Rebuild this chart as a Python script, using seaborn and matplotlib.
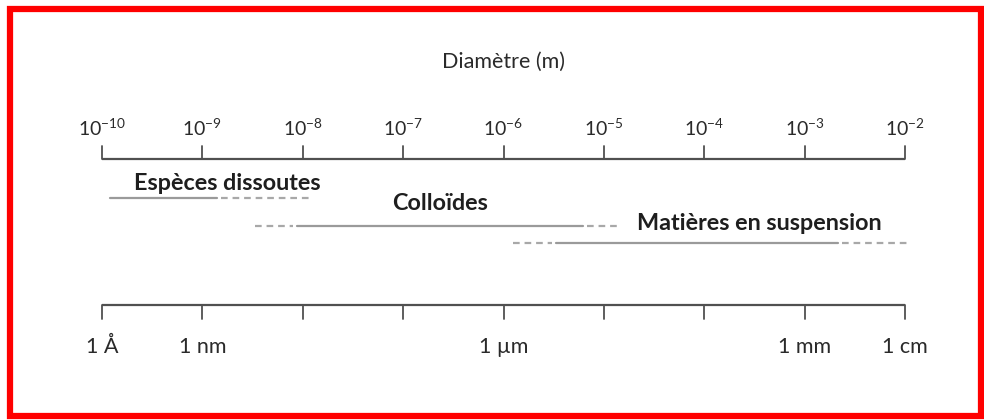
import numpy as np
import pandas as pd
import matplotlib
matplotlib.use("Agg")
import matplotlib.pyplot as plt
from matplotlib.patches import Rectangle
import seaborn as sns

sns.set_theme(style="white")
plt.rcParams["font.family"] = ["Lato", "DejaVu Sans"]
plt.rcParams["mathtext.default"] = "regular"

# Decade ticks of the diameter scale (log10 of metres)
decades = [-10, -9, -8, -7, -6, -5, -4, -3, -2]
# Named sizes on the lower scale
unit_exps = [-10, -9, -6, -3, -2]
unit_labels = ["1 Å", "1 nm", "1 µm", "1 mm", "1 cm"]

# Size classes: (log10 start dashed, solid start, solid end, dashed end)
classes = ["Espèces dissoutes", "Colloïdes", "Matières en suspension"]
dash_lo = [None, -8.48, -5.91]
solid_lo = [-9.92, -8.06, -5.48]
solid_hi = [-8.85, -5.21, -2.67]
dash_hi = [-7.90, -4.86, -1.98]
label_at = [-8.75, -6.63, -3.45]

W, H = 984, 420
fig = plt.figure(figsize=(W / 100, H / 100), dpi=100)
fig.patch.set_facecolor("white")
ax = fig.add_axes([0, 0, 1, 1])
ax.set_xscale("log")
px_per_dec = (905 - 102) / 8.0
ax.set_xlim(10 ** (-10 - 102 / px_per_dec), 10 ** (-2 + (W - 905) / px_per_dec))
ax.set_ylim(H, 0)
ax.axis("off")

axis_col = "#505050"
text_col = "#2a2a2a"
range_col = "#9a9a9a"

x_lo, x_hi = 10.0 ** decades[0], 10.0 ** decades[-1]

# Upper scale: exponent labels above, ticks pointing up
y_top = 159
ax.plot([x_lo, x_hi], [y_top, y_top], color=axis_col, lw=1.6, solid_capstyle="butt")
for e in decades:
    ax.plot([10.0 ** e] * 2, [y_top, y_top - 13], color=axis_col, lw=1.3)
    ax.text(10.0 ** e, 128, r"$\mathregular{10^{%d}}$" % e, ha="center", va="center",
            fontsize=14, color=text_col)
ax.text(10.0 ** -6, 62, "Diamètre (m)", ha="center", va="center",
        fontsize=15.5, color=text_col)

# Lower scale: ticks pointing down, unit names below
y_bot = 305
ax.plot([x_lo, x_hi], [y_bot, y_bot], color=axis_col, lw=1.6, solid_capstyle="butt")
for e in decades:
    ax.plot([10.0 ** e] * 2, [y_bot, y_bot + 14], color=axis_col, lw=1.3)
for e, lab in zip(unit_exps, unit_labels):
    ax.text(10.0 ** e, 347, lab, ha="center", va="center", fontsize=15.5, color=text_col)

# Range bars of each size class
row_y = [198, 226, 243]
label_y = [183, 203, 223]
rows = []
for i, name in enumerate(classes):
    if dash_lo[i] is not None:
        rows.append((name + " a", "dashed", dash_lo[i], row_y[i]))
        rows.append((name + " a", "dashed", solid_lo[i] - 0.04, row_y[i]))
    rows.append((name + " b", "solid", solid_lo[i], row_y[i]))
    rows.append((name + " b", "solid", solid_hi[i], row_y[i]))
    rows.append((name + " c", "dashed", solid_hi[i] + 0.04, row_y[i]))
    rows.append((name + " c", "dashed", dash_hi[i], row_y[i]))
seg = pd.DataFrame(rows, columns=["seg", "kind", "logd", "y"])
seg["d"] = 10.0 ** seg["logd"]

for seg_id, g in seg.groupby("seg", sort=False):
    dashed = g["kind"].iloc[0] == "dashed"
    sns.lineplot(data=g, x="d", y="y", ax=ax, color="#a8a8a8" if dashed else range_col,
                 lw=1.6, linestyle=(0, (3, 2.2)) if dashed else "-", legend=False,
                 sort=False, estimator=None)

for i, name in enumerate(classes):
    ax.text(10.0 ** label_at[i], label_y[i], name, ha="center", va="center",
            fontsize=16.8, fontweight="bold", color="#1e1e1e")

ax.set_xlabel("")
ax.set_ylabel("")
ax.axis("off")

# Red frame around the figure
fig.patches.append(Rectangle((10 / W, 4 / H), (W - 10 - 3) / W, (H - 4 - 8.5) / H,
                             transform=fig.transFigure, fill=False,
                             edgecolor="#ff0000", lw=4.5))

fig.savefig("out.png", dpi=100, facecolor="white")
